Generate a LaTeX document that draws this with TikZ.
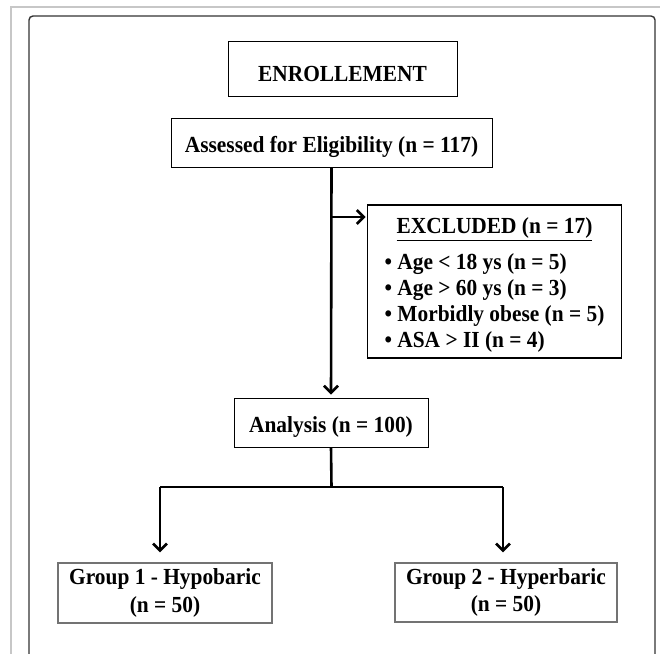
\documentclass[tikz,border=0pt]{standalone}
\usepackage{fontspec}
\setmainfont{Liberation Serif}[FakeStretch=0.93]
\usetikzlibrary{arrows.meta}
\begin{document}
\begin{tikzpicture}[x=1pt, y=-1pt,
        box/.style={draw, line width=0.9pt, inner sep=0pt, align=center, font=\fontsize{23}{27.5}\selectfont\bfseries,
            execute at begin node=\rule{0pt}{25pt}},
        link/.style={line width=2.6pt, -{Straight Barb[length=7pt, width=14pt]}}]
        \useasboundingbox (0, 0) rectangle (660, 653);
        % page frames
        \draw[line width=2pt, black!22] (11, 670) -- (11, 7) -- (670, 7);
        \draw[line width=1.4pt, black!80, rounded corners=4pt] (29, 670) -- (29, 16) -- (655, 16) -- (655, 670);
        % boxes
        \node[box, minimum width=229, minimum height=55] (enroll) at (342.5, 69) {ENROLLEMENT};
        \node[box, minimum width=321, minimum height=49] (assess) at (331.5, 142.5) {Assessed for Eligibility (n = 117)};
        \node[box, line width=1.8pt, minimum width=254, minimum height=153] (excl) at (494.5, 281.5) {\rule{0pt}{27pt}\underline{EXCLUDED (n = 17)}\\[9pt]
            \begin{tabular}{@{}l@{}}
                • Age < 18 ys (n = 5)\\[-1.5pt]
                • Age > 60 ys (n = 3)\\[-1.5pt]
                • Morbidly obese (n = 5)\\[-1.5pt]
                • ASA > II (n = 4)
            \end{tabular}};
        \node[box, minimum width=194, minimum height=49] (analysis) at (331, 422.5) {Analysis (n = 100)};
        \node[box, draw=black!55, line width=1.2pt, minimum width=214, minimum height=60] (grp1) at (165, 593) {Group 1 - Hypobaric\\(n = 50)};
        \node[box, draw=black!55, line width=1.2pt, minimum width=222, minimum height=59] (grp2) at (506, 592.5) {Group 2 - Hyperbaric\\(n = 50)};
        % connectors
        \coordinate (branch) at (331.5, 217);
        \coordinate (split) at (331.5, 487);
        \coordinate (left) at (160, 487);
        \coordinate (right) at (503, 487);
        \draw[link, shorten >=3pt] (assess.south) -- (analysis.north);
        \draw[link, shorten >=1pt] (branch) -- (branch -| excl.west);
        \draw[line width=2.6pt] (analysis.south) -- (split);
        \draw[line width=2.6pt] (left) -- (right);
        \draw[link, shorten >=10pt] (left) -- (left |- grp1.north);
        \draw[link, shorten >=10pt] (right) -- (right |- grp2.north);
    \end{tikzpicture}
\end{document}
